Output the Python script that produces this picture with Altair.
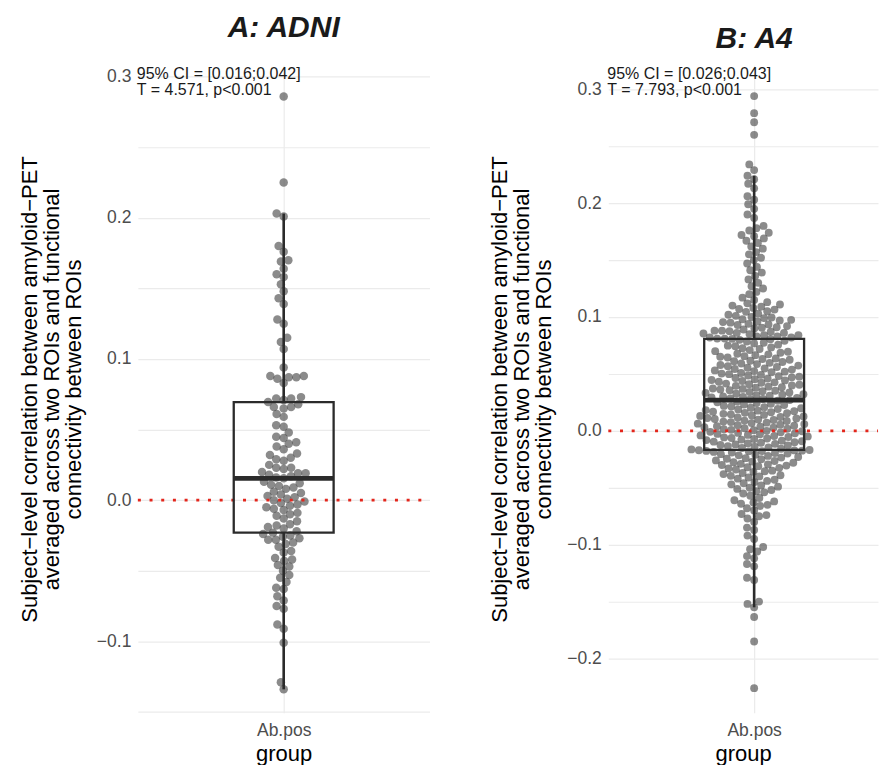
import math
import pandas as pd
import altair as alt

# ---------------- data ----------------
group_label = "Ab.pos"
panel_titles = ["A: ADNI", "B: A4"]
stats_a = ["95% CI = [0.016;0.042]", "T = 4.571, p<0.001"]
stats_b = ["95% CI = [0.026;0.043]", "T = 7.793, p<0.001"]
y_title = ["Subject\u2212level correlation between amyloid\u2212PET",
           "averaged across two ROIs and functional",
           "connectivity between ROIs"]
ticks_a = [-0.15, -0.1, -0.05, 0.0, 0.05, 0.1, 0.15, 0.2, 0.25, 0.3]
ticks_b = [-0.2, -0.15, -0.1, -0.05, 0.0, 0.05, 0.1, 0.15, 0.2, 0.25, 0.3]
reference_line = [0.0]

adni_values = [
    0.286, 0.225, 0.203, 0.201,
    0.180, 0.176, 0.170, 0.169, 0.164, 0.160, 0.158, 0.153, 0.148, 0.143, 0.139,
    0.128, 0.125, 0.115, 0.112, 0.107, 0.094, 0.088, 0.088, 0.087, 0.087, 0.086,
    0.083, 0.073, 0.072, 0.072, 0.071,
    0.0695,
    0.068, 0.066, 0.066, 0.065, 0.061, 0.059, 0.053, 0.052, 0.048, 0.045,
    0.044, 0.041, 0.040, 0.038, 0.036, 0.033, 0.032, 0.030, 0.029, 0.028,
    0.025, 0.023, 0.023, 0.022, 0.020, 0.019, 0.019, 0.018, 0.017, 0.016,
    0.0155,
    0.013, 0.012, 0.011, 0.010, 0.009, 0.008, 0.006, 0.005, 0.004, 0.003,
    0.002, 0.001, 0.000, -0.001, -0.002, -0.003, -0.004, -0.005, -0.006, -0.007,
    -0.009, -0.010, -0.011, -0.013, -0.015, -0.017, -0.018, -0.019, -0.020, -0.022,
    -0.023,
    -0.024, -0.025, -0.026, -0.027, -0.028, -0.028, -0.030, -0.031, -0.033, -0.036,
    -0.037, -0.041, -0.042, -0.043, -0.046, -0.047, -0.050, -0.053, -0.055, -0.058,
    -0.062, -0.063, -0.068, -0.071, -0.075, -0.077, -0.088, -0.091, -0.101, -0.129, -0.134,
]

a4_values = [
    0.294, 0.279, 0.271, 0.260, 0.234, 0.229, 0.224, 0.221,
    0.217, 0.213, 0.206, 0.203, 0.199, 0.195, 0.190, 0.187,
    0.180, 0.178, 0.176, 0.174, 0.172, 0.171, 0.169, 0.167, 0.165, 0.162, 0.160,
    0.157, 0.155, 0.152, 0.150, 0.147, 0.144, 0.141, 0.139, 0.136, 0.133, 0.130,
    0.127, 0.125, 0.122, 0.120, 0.117, 0.115, 0.113, 0.112, 0.111, 0.110, 0.109, 0.108, 0.107,
    0.1065, 0.105, 0.1045, 0.103, 0.102, 0.101, 0.100, 0.0995, 0.099, 0.098, 0.0975, 0.097,
    0.096, 0.0955, 0.095, 0.094, 0.0935, 0.093, 0.092, 0.091, 0.0905, 0.090, 0.089, 0.088,
    0.0875, 0.088, 0.087, 0.086, 0.0855, 0.086, 0.085, 0.084, 0.084, 0.083, 0.083, 0.082,
    0.082, 0.081, 0.081,
    0.0808,
    0.0804, 0.0799, 0.0791, 0.0785, 0.0774, 0.0768, 0.0757, 0.0748, 0.0743, 0.0733,
    0.0725, 0.0719, 0.0709, 0.0700, 0.0695, 0.0686, 0.0677, 0.0672, 0.0665, 0.0656,
    0.0651, 0.0644, 0.0635, 0.0631, 0.0624, 0.0616, 0.0611, 0.0605, 0.0597, 0.0591,
    0.0586, 0.0578, 0.0573, 0.0568, 0.0561, 0.0555, 0.0548, 0.0543, 0.0538, 0.0531,
    0.0525, 0.0520, 0.0515, 0.0508, 0.0503, 0.0498, 0.0491, 0.0486, 0.0481, 0.0476,
    0.0470, 0.0464, 0.0459, 0.0454, 0.0447, 0.0443, 0.0438, 0.0431, 0.0426, 0.0422,
    0.0415, 0.0410, 0.0405, 0.0399, 0.0395, 0.0388, 0.0383, 0.0379, 0.0372, 0.0368,
    0.0363, 0.0357, 0.0352, 0.0348, 0.0342, 0.0337, 0.0333, 0.0327, 0.0322, 0.0317,
    0.0312, 0.0308, 0.0302, 0.0298, 0.0293, 0.0289, 0.0285, 0.0280, 0.0275,
    0.0270,
    0.0264, 0.0257, 0.0251, 0.0244, 0.0238, 0.0231, 0.0226, 0.0219, 0.0214, 0.0208,
    0.0203, 0.0198, 0.0192, 0.0188, 0.0182, 0.0177, 0.0173, 0.0168, 0.0163, 0.0158,
    0.0154, 0.0149, 0.0145, 0.0140, 0.0135, 0.0131, 0.0126, 0.0122, 0.0117, 0.0113,
    0.0108, 0.0104, 0.0099, 0.0095, 0.0090, 0.0086, 0.0081, 0.0077, 0.0072, 0.0068,
    0.0063, 0.0059, 0.0054, 0.0050, 0.0045, 0.0041, 0.0036, 0.0032, 0.0027, 0.0023,
    0.0018, 0.0014, 0.0009, 0.0005, 0.0000, -0.0004, -0.0009, -0.0013, -0.0018, -0.0022,
    -0.0027, -0.0031, -0.0036, -0.0040, -0.0045, -0.0049, -0.0054, -0.0058, -0.0063, -0.0067,
    -0.0072, -0.0077, -0.0081, -0.0086, -0.0091, -0.0095, -0.0100, -0.0105, -0.0110, -0.0114,
    -0.0119, -0.0124, -0.0129, -0.0134, -0.0139, -0.0145, -0.0151, -0.0157, -0.0163,
    -0.0168,
    -0.0170, -0.0172, -0.0174, -0.0176, -0.0178, -0.018, -0.0185, -0.019, -0.0195, -0.020,
    -0.0205, -0.021, -0.0215, -0.022, -0.023, -0.0235, -0.024, -0.0245, -0.025, -0.026,
    -0.0265, -0.027, -0.0275, -0.028, -0.029, -0.0295, -0.030, -0.0305, -0.031, -0.032, -0.0325,
    -0.033, -0.034, -0.035, -0.0355, -0.036, -0.037, -0.038, -0.039, -0.0395, -0.040,
    -0.041, -0.042, -0.043, -0.044,
    -0.045, -0.046, -0.047, -0.048, -0.049, -0.050, -0.051, -0.052, -0.053, -0.054,
    -0.055, -0.057, -0.059,
    -0.061, -0.062, -0.063, -0.064, -0.065, -0.066, -0.068, -0.070, -0.073, -0.074,
    -0.075, -0.077, -0.080,
    -0.085, -0.087, -0.092, -0.095, -0.102, -0.104, -0.106, -0.110, -0.112, -0.117,
    -0.119, -0.129, -0.131, -0.150, -0.152, -0.155, -0.1635, -0.185, -0.226,
]

FONT = "Liberation Sans"
PT_COLOR = "#4d4d4d"
BOX_COLOR = "#2b2b2b"
GRID = "#ebebeb"
PLOT_H = 648


def swarm_offsets(values, px_per_unit, d):
    """Beeswarm ('swarm' method) horizontal offsets in pixels."""
    ys = [v * px_per_unit for v in values]
    order = sorted(range(len(ys)), key=lambda i: ys[i])
    placed = []
    xs = [0.0] * len(ys)
    for i in order:
        y = ys[i]
        near = [(px, py) for (px, py) in placed if abs(py - y) < d]
        cands = [0.0]
        for px, py in near:
            dx = math.sqrt(max(d * d - (py - y) ** 2, 0.0))
            cands.append(px + dx)
            cands.append(px - dx)
        cands.sort(key=lambda c: (abs(c), c))
        for c in cands:
            if all((c - px) ** 2 + (y - py) ** 2 >= d * d - 1e-6 for px, py in near):
                xs[i] = c
                break
        placed.append((xs[i], y))
    return xs


def panel(values, ydom, ticks, xdom, height, title, title_y, stats, spacing, pt_size):
    W = xdom[1] - xdom[0]
    H = height
    ppu = H / (ydom[1] - ydom[0])
    c = -xdom[0]  # pixel position of the group centre
    offs = swarm_offsets(values, ppu, spacing)
    df = pd.DataFrame({"value": values, "off": offs})
    base = alt.Chart(df)

    yscale = alt.Scale(domain=ydom, nice=False, zero=False)
    xscale = alt.Scale(domain=xdom, nice=False, zero=False)
    yaxis = alt.Axis(
        values=ticks, format=".1f",
        labelExpr="round(datum.value*20) % 2 == 0 ? datum.label : ''",
        title=y_title, titleFontSize=22, titleFontWeight="normal", titleColor="black",
        titleLineHeight=22, titlePadding=11,
        labelFontSize=17.5, labelColor=PT_COLOR, labelPadding=7,
        ticks=False, domain=False, grid=True, gridColor=GRID, gridWidth=1.2,
    )
    xaxis = alt.Axis(
        values=[0], labelExpr=f"'{group_label}'", title="group",
        titleFontSize=22, titleFontWeight="normal", titleColor="black", titlePadding=4,
        labelFontSize=17.5, labelColor=PT_COLOR, labelPadding=9,
        ticks=False, domain=False, grid=True, gridColor=GRID, gridWidth=1.2,
    )
    Y = lambda f: alt.Y(f, scale=yscale, axis=yaxis)

    points = base.mark_circle(size=pt_size, color=PT_COLOR, opacity=0.65).encode(
        x=alt.X("off:Q", scale=xscale, axis=xaxis), y=Y("value:Q"))

    zero = alt.Chart(pd.DataFrame({"ref": reference_line})).mark_rule(
        color="#e3261c", strokeDash=[3, 8.7], strokeWidth=2.6).encode(
        y=Y("ref:Q"), x=alt.value(0), x2=alt.value(W))

    box = base.transform_aggregate(q1="q1(value)", q3="q3(value)").mark_rect(
        fillOpacity=0, stroke=BOX_COLOR, strokeWidth=2.3).encode(
        y=Y("q1:Q"), y2="q3:Q", x=alt.value(c - 50), x2=alt.value(c + 50))

    med = base.transform_aggregate(med="median(value)").mark_rule(
        color=BOX_COLOR, strokeWidth=4.8).encode(
        y=Y("med:Q"), x=alt.value(c - 50), x2=alt.value(c + 50))

    wh = base.transform_joinaggregate(q1="q1(value)", q3="q3(value)").transform_calculate(
        lo="datum.q1 - 1.5*(datum.q3 - datum.q1)", hi="datum.q3 + 1.5*(datum.q3 - datum.q1)"
    ).transform_filter("datum.value >= datum.lo && datum.value <= datum.hi").transform_aggregate(
        wmin="min(value)", wmax="max(value)", bq1="min(q1)", bq3="min(q3)")
    wh_up = wh.mark_rule(color=BOX_COLOR, strokeWidth=2.6).encode(
        y=Y("bq3:Q"), y2="wmax:Q", x=alt.value(c))
    wh_lo = wh.mark_rule(color=BOX_COLOR, strokeWidth=2.6).encode(
        y=Y("wmin:Q"), y2="bq1:Q", x=alt.value(c))

    ttl = alt.Chart(pd.DataFrame({"t": [title]})).mark_text(
        font=FONT, fontSize=30, fontWeight="bold", fontStyle="italic", color="#1a1a1a",
        align="center", baseline="alphabetic").encode(
        text="t:N", x=alt.value(c), y=alt.value(title_y))

    st = alt.Chart(pd.DataFrame({"t": [stats]})).mark_text(
        font=FONT, fontSize=16, lineHeight=15.5, color="#1a1a1a",
        align="left", baseline="alphabetic").encode(
        text="t:N", x=alt.value(-1), y=alt.value(14))

    return alt.layer(points, zero, wh_up, wh_lo, box, med, st, ttl).properties(
        width=W, height=H)


pA = panel(adni_values, [-0.1505, 0.308], ticks_a, [-146, 146], PLOT_H,
           panel_titles[0], -28, stats_a, 7.6, 72)
pB = panel(a4_values, [-0.2475, 0.321], ticks_b, [-146, 124], PLOT_H,
           panel_titles[1], -17, stats_b, 7.5, 62)

chart = alt.hconcat(pA, pB, spacing=179, bounds="flush").properties(
    padding={"left": 10, "top": 5, "right": 0, "bottom": 0}
).configure(font=FONT).configure_view(stroke=None).configure_axis(labelFont=FONT, titleFont=FONT)

chart.save("out.html", embed_options={"renderer": "svg", "actions": False})
